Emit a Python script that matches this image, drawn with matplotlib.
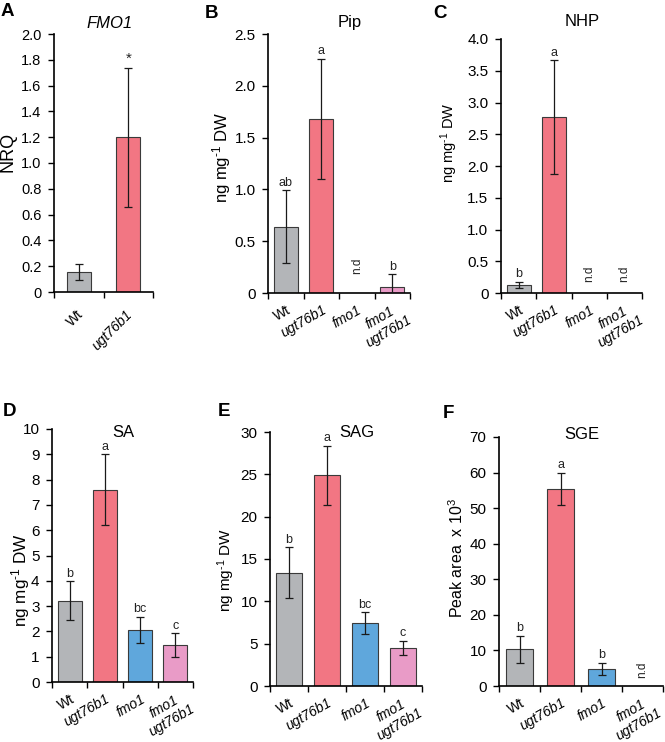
import numpy as np
import matplotlib
matplotlib.use('Agg')
import matplotlib.pyplot as plt
from matplotlib.ticker import FixedLocator, FuncFormatter

plt.rcParams['font.family'] = ['Liberation Sans', 'DejaVu Sans']
plt.rcParams['mathtext.fontset'] = 'custom'
plt.rcParams['mathtext.rm'] = 'Liberation Sans'
plt.rcParams['mathtext.it'] = 'Liberation Sans:italic'

W, H = 665, 742

genotypes = ['Wt', 'ugt76b1', 'fmo1', 'fmo1\nugt76b1']
bar_colors = ['#b3b5b8', '#f27683', '#5fa7dc', '#e99bc7']
ND = np.nan  # not detected

# A: FMO1 expression
fmo1_vals = [0.155, 1.20]
fmo1_err = [0.06, 0.54]
fmo1_sig = ['', '*']

# B: Pip
pip_vals = [0.64, 1.68, ND, 0.06]
pip_err = [0.35, 0.58, ND, 0.12]
pip_sig = ['ab', 'a', 'n.d', 'b']

# C: NHP
nhp_vals = [0.13, 2.77, ND, ND]
nhp_err = [0.05, 0.90, ND, ND]
nhp_sig = ['b', 'a', 'n.d', 'n.d']

# D: SA
sa_vals = [3.22, 7.60, 2.07, 1.45]
sa_err = [0.76, 1.40, 0.51, 0.47]
sa_sig = ['b', 'a', 'bc', 'c']

# E: SAG
sag_vals = [13.4, 24.9, 7.4, 4.5]
sag_err = [3.0, 3.5, 1.3, 0.85]
sag_sig = ['b', 'a', 'bc', 'c']

# F: SGE
sge_vals = [10.3, 55.5, 4.9, ND]
sge_err = [3.8, 4.5, 1.7, ND]
sge_sig = ['b', 'a', 'b', 'n.d']

fig = plt.figure(figsize=(W / 100, H / 100), dpi=100)


def fx(x):
    return x / W


def fy(y):
    return 1 - y / H


def pt(px):
    return px * 72 / 100


def panel(box, vals, errs, sig, ymax, ystep, fmt, ylabel, ylab_xy, ylab_size, title, title_xy,
          letter, letter_xy, nd_off=6, title_italic=False, rot=30, tick_size=11):
    l, t, r, b = box
    ax = fig.add_axes([fx(l), fy(b), fx(r - l), (b - t) / H])
    n = len(vals)
    x = np.arange(n)
    v = np.array(vals, dtype=float)
    e = np.array(errs, dtype=float)
    width = 0.49 if n == 2 else 0.68
    ax.bar(x, np.nan_to_num(v), width=width, color=bar_colors[:n],
           edgecolor='#3a3a3a', linewidth=0.8, zorder=2)
    ok = ~np.isnan(v)
    ax.errorbar(x[ok], v[ok], yerr=e[ok], fmt='none', ecolor='#1a1a1a',
                elinewidth=0.9, capsize=3, capthick=0.9, zorder=3)
    for i in range(n):
        if sig[i] == 'n.d':
            ax.annotate('n.d', (i, 0), xytext=(0, nd_off), textcoords='offset points',
                        rotation=90, ha='center', va='bottom', fontsize=8.5,
                        color='#222222')
        elif sig[i] == '*':
            ax.annotate(sig[i], (i, v[i] + e[i]), xytext=(0, 1), textcoords='offset points',
                        ha='center', va='bottom', fontsize=11, color='#222222')
        elif sig[i]:
            ax.annotate(sig[i], (i, v[i] + e[i]), xytext=(0, 1), textcoords='offset points',
                        ha='center', va='bottom', fontsize=9, color='#222222')
    ax.set_xlim(-0.5, n - 0.5)
    ax.set_ylim(0, ymax)
    ax.set_yticks(np.arange(0, ymax + ystep / 2, ystep))
    ax.yaxis.set_major_formatter(FuncFormatter(lambda val, p: '0' if val == 0 else fmt.format(val)))
    ax.set_xticks([])
    # category labels, anchored at their right end below each category
    for i, g in enumerate(genotypes[:n]):
        if rot == 45:
            off = (pt(2), pt(-20))
        elif '\n' in g:
            off = (pt(14), pt(-19))
        else:
            off = (pt(4), pt(-16))
        ax.annotate(g, (i, 0), xycoords=('data', 'axes fraction'), xytext=off,
                    textcoords='offset points', rotation=rot, ha='right', va='center',
                    rotation_mode='anchor', multialignment='center', fontsize=10,
                    fontstyle='normal' if g == 'Wt' else 'italic', annotation_clip=False)
    ax.xaxis.set_minor_locator(FixedLocator(np.arange(-0.5, n, 1.0)))
    ax.tick_params(axis='x', which='minor', length=4, width=1.0, direction='out')
    ax.tick_params(axis='y', length=4, width=1.0, direction='out', labelsize=tick_size, pad=5)
    for s in ['top', 'right']:
        ax.spines[s].set_visible(False)
    for s in ['left', 'bottom']:
        ax.spines[s].set_linewidth(1.2)
    fig.text(fx(ylab_xy[0]), fy(ylab_xy[1]), ylabel, rotation=90, ha='center', va='center',
             fontsize=ylab_size)
    fig.text(fx(title_xy[0]), fy(title_xy[1]), title, ha='center', va='center', fontsize=12,
             fontstyle='italic' if title_italic else 'normal')
    fig.text(fx(letter_xy[0]), fy(letter_xy[1]), letter, ha='left', va='center',
             fontsize=13.5, fontweight='bold')
    return ax


unit = 'ng mg$^{\\text{-1}}$ DW'

panel((54, 34, 153, 292), fmo1_vals, fmo1_err, fmo1_sig, 2.0, 0.2, '{:.1f}', 'NRQ', (8, 152), 13,
      'FMO1', (110, 23), 'A', (1, 12), title_italic=True, rot=45, tick_size=10.5)
panel((268, 34, 410, 293), pip_vals, pip_err, pip_sig, 2.5, 0.5, '{:.1f}', unit, (222, 157), 12,
      'Pip', (350, 22), 'B', (205, 14), nd_off=14)
panel((501, 39, 642, 293), nhp_vals, nhp_err, nhp_sig, 4.0, 0.5, '{:.1f}', unit, (449, 143), 10.5,
      'NHP', (582, 22), 'C', (433, 14), nd_off=8)
panel((52, 429, 193, 682), sa_vals, sa_err, sa_sig, 10, 1, '{:.0f}', unit, (21, 580), 12.3,
      'SA', (123, 432), 'D', (3, 412))
panel((270, 432, 422, 686), sag_vals, sag_err, sag_sig, 30, 5, '{:.0f}', unit, (226, 570), 11,
      'SAG', (357, 432), 'E', (218, 412))
panel((499, 437, 663, 686), sge_vals, sge_err, sge_sig, 70, 10, '{:.0f}', 'Peak area  x 10$^{3}$',
      (457, 558), 11.5, 'SGE', (582, 435), 'F', (443, 413))

fig.savefig('out.png', dpi=100)
